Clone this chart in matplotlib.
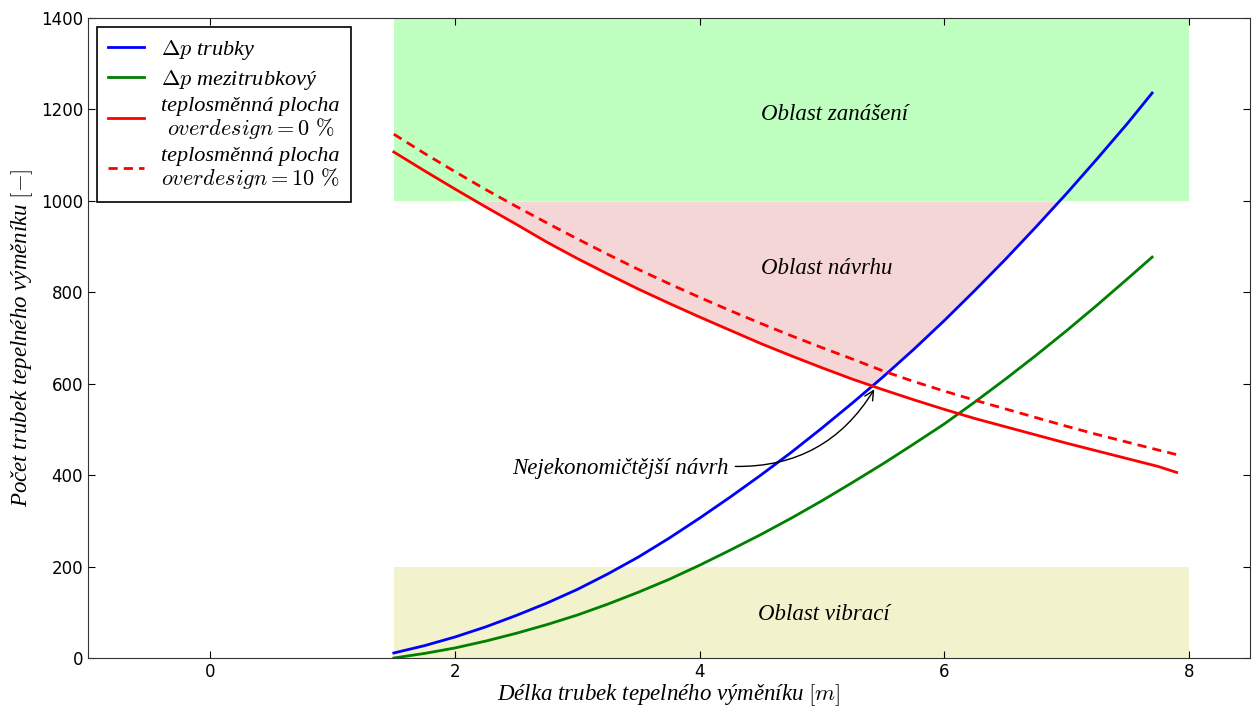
import numpy as np
import matplotlib
matplotlib.use('Agg')
import matplotlib.pyplot as plt

plt.rcParams['mathtext.fontset'] = 'cm'

# tube side pressure drop limit (blue) and shell side limit (green)
x_dp = [1.5, 1.75, 2.0, 2.25, 2.5, 2.75, 3.0, 3.25, 3.5, 3.75, 4.0, 4.25, 4.5,
        4.75, 5.0, 5.25, 5.5, 5.75, 6.0, 6.25, 6.5, 6.75, 7.0, 7.25, 7.5, 7.7]
dp_trubky = [11, 27, 46, 68, 93, 120, 150, 184, 221, 262, 306, 352, 400,
             450, 503, 558, 615, 675, 738, 804, 872, 943, 1016, 1092, 1170, 1236]
dp_mezitrubkovy = [0, 10, 22, 37, 54, 73, 94, 118, 144, 172, 203, 236, 270,
                   306, 344, 384, 425, 468, 512, 560, 610, 662, 716, 772, 830, 877]

# heat transfer area curves (red)
x_plocha = [1.5, 1.75, 2.0, 2.25, 2.5, 2.75, 3.0, 3.25, 3.5, 3.75, 4.0, 4.25, 4.5,
            4.75, 5.0, 5.25, 5.5, 5.75, 6.0, 6.25, 6.5, 6.75, 7.0, 7.25, 7.5, 7.75, 7.9]
plocha_0 = [1107, 1066, 1026, 987, 949, 910, 874, 840, 807, 776, 746, 717, 688,
            661, 635, 610, 587, 565, 544, 524, 506, 488, 470, 453, 436, 419, 406]
plocha_10 = [1146, 1104, 1064, 1025, 988, 952, 917, 883, 850, 819, 789, 760, 732,
             705, 679, 654, 628, 605, 584, 564, 545, 526, 507, 489, 472, 455, 445]

# optimum point
opt_x, opt_y = 5.44, 593

serif = 'Liberation Serif'

fig = plt.figure(figsize=(12.52, 7.10), dpi=100)
ax = fig.add_axes([0.0703, 0.0732, 0.9281, 0.9014])

# regions
ax.fill_between([1.5, 8], 1000, 1400, color='lime', alpha=0.25, lw=0)
ax.fill_between([1.5, 8], 0, 200, color='y', alpha=0.2, lw=0)

# design region: above red and blue, below 1000
xx = np.linspace(1.5, 7.7, 600)
red_i = np.interp(xx, x_plocha, plocha_0)
blue_i = np.interp(xx, x_dp, dp_trubky)
low = np.maximum(red_i, blue_i)
ax.fill_between(xx, low, 1000, where=low < 1000, color='#f5d6d6', lw=0)

ax.plot(x_dp, dp_trubky, 'b-', lw=2, label=r'$\Delta p$ trubky')
ax.plot(x_dp, dp_mezitrubkovy, 'g-', lw=2, label=r'$\Delta p$ mezitrubkový')
ax.plot(x_plocha, plocha_0, 'r-', lw=2,
        label='teplosměnná plocha\n' + r'$overdesign=0\ \%$')
ax.plot(x_plocha, plocha_10, 'r--', lw=2, dashes=(3.3, 2.2),
        label='teplosměnná plocha\n' + r'$overdesign=10\ \%$')

ax.text(5.1, 1190, 'Oblast zanášení', ha='center', va='center',
        family=serif, style='italic', fontsize=16.5)
ax.text(5.04, 853, 'Oblast návrhu', ha='center', va='center',
        family=serif, style='italic', fontsize=16.5)
ax.text(5.02, 96, 'Oblast vibrací', ha='center', va='center',
        family=serif, style='italic', fontsize=16.5)

ax.annotate('Nejekonomičtější návrh', xy=(opt_x, opt_y), xytext=(3.35, 415),
            ha='center', va='center', family=serif, style='italic', fontsize=16.5,
            arrowprops=dict(arrowstyle='->', color='k', lw=1, relpos=(1.0, 0.6),
                            connectionstyle='arc3,rad=0.3', shrinkA=3, shrinkB=2))

ax.set_xlim(-1, 8.5)
ax.set_ylim(0, 1400)
ax.set_xticks([0, 2, 4, 6, 8])
ax.set_yticks(range(0, 1401, 200))
ax.tick_params(direction='in', top=True, right=True, labelsize=12, length=5)
for s in ax.spines.values():
    s.set_color('#333333')

ax.set_xlabel('Délka trubek tepelného výměníku $[m]$', family=serif,
              style='italic', fontsize=16.5, labelpad=1)
ax.set_ylabel('Počet trubek tepelného výměníku $[-]$', family=serif,
              style='italic', fontsize=16.5)

leg = ax.legend(loc='upper left', fancybox=False, handlelength=1.6,
                borderaxespad=0.4, labelspacing=0.25, borderpad=0.5,
                prop={'family': serif, 'style': 'italic', 'size': 16},
                framealpha=1)
leg.get_frame().set_edgecolor('k')
leg.get_frame().set_linewidth(1.2)
for t in leg.get_texts():
    t.set_multialignment('center')
    t.set_linespacing(1.0)

fig.savefig('out.png', dpi=100)
